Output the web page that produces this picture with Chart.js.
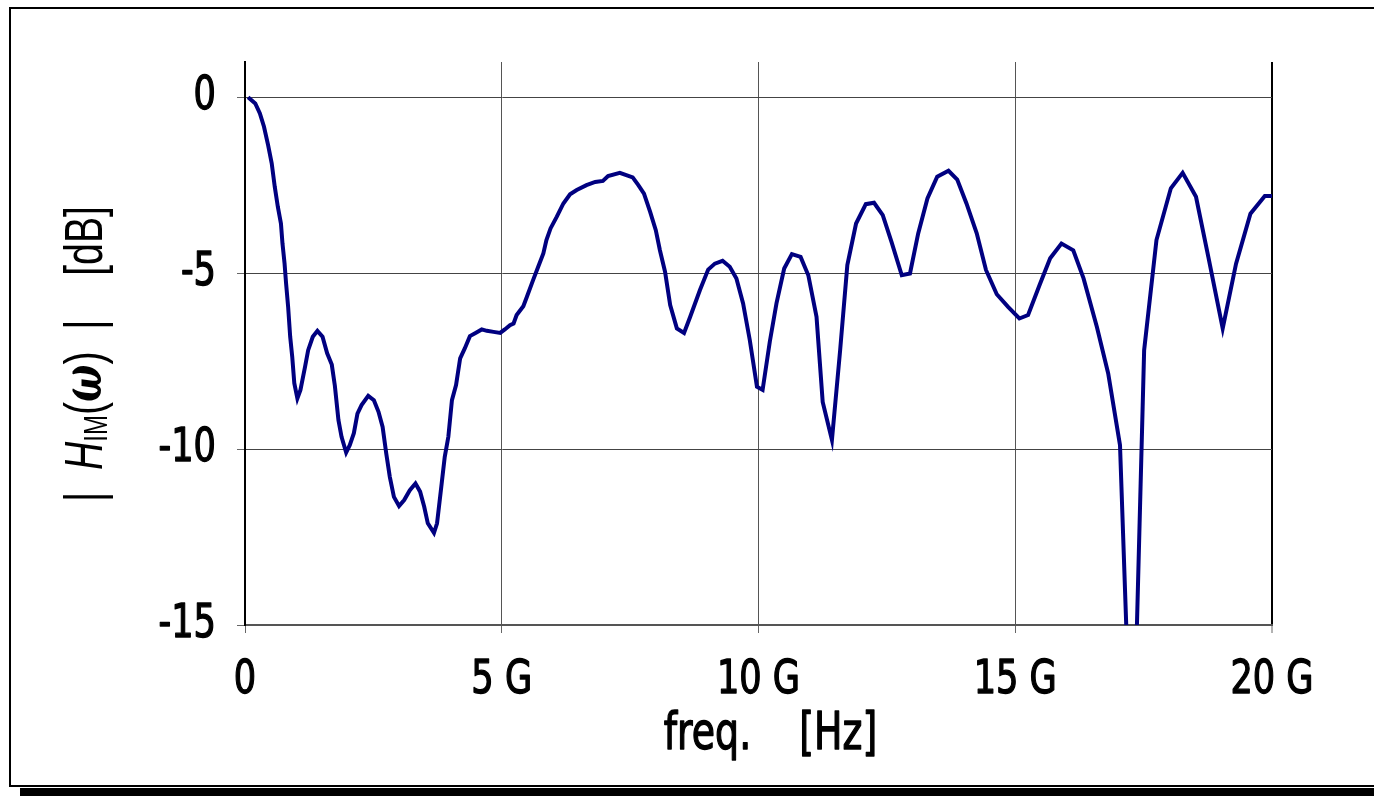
<!DOCTYPE html>
<html><head><meta charset="utf-8">
<script src="https://cdn.jsdelivr.net/npm/chart.js@4/dist/chart.umd.min.js"></script>
<style>
html,body{margin:0;padding:0;background:#fff;width:1374px;height:796px;overflow:hidden;}
#frame{position:absolute;left:9px;top:7px;width:1400px;height:776px;border:2px solid #000;}
#shadow{position:absolute;left:20px;top:788px;width:1400px;height:9px;background:#000;}
#wrap{position:absolute;left:0;top:0;width:1374px;height:796px;}
</style></head>
<body>
<div id="frame"></div><div id="shadow"></div>
<div id="wrap"><canvas id="c" width="1374" height="796"></canvas></div>
<script>
// frequency in GHz
const freqGHz = [0.06,0.2,0.29,0.37,0.45,0.52,0.58,0.64,0.70,0.73,0.77,0.80,0.84,0.88,0.92,0.96,1.02,1.08,1.17,1.23,1.32,1.41,1.51,1.60,1.69,1.75,1.82,1.88,1.97,2.04,2.12,2.19,2.27,2.40,2.51,2.60,2.68,2.75,2.82,2.90,3.00,3.10,3.21,3.32,3.41,3.49,3.56,3.68,3.74,3.83,3.89,3.96,4.03,4.11,4.19,4.28,4.38,4.49,4.61,4.71,4.84,4.97,5.06,5.16,5.23,5.29,5.42,5.49,5.61,5.71,5.81,5.87,5.95,6.07,6.20,6.33,6.46,6.65,6.82,6.97,7.07,7.30,7.55,7.66,7.77,7.89,8.00,8.08,8.18,8.28,8.41,8.55,8.67,8.86,9.02,9.15,9.30,9.44,9.57,9.70,9.83,9.97,10.08,10.22,10.35,10.50,10.65,10.82,10.97,11.13,11.25,11.43,11.59,11.73,11.90,12.09,12.25,12.42,12.59,12.79,12.95,13.11,13.29,13.48,13.70,13.87,14.05,14.25,14.43,14.64,14.86,15.08,15.25,15.47,15.68,15.90,16.13,16.33,16.59,16.81,17.04,17.28,17.51,17.75,18.03,18.26,18.52,18.76,19.04,19.30,19.58,19.86,20.0];
// magnitude in dB
const magDB = [0.0,-0.18,-0.46,-0.84,-1.36,-1.88,-2.55,-3.12,-3.59,-4.16,-4.72,-5.29,-5.96,-6.81,-7.38,-8.13,-8.56,-8.32,-7.66,-7.19,-6.81,-6.64,-6.81,-7.28,-7.6,-8.2,-9.18,-9.65,-10.1,-9.89,-9.55,-8.99,-8.75,-8.49,-8.61,-8.94,-9.37,-10.12,-10.79,-11.36,-11.62,-11.45,-11.17,-10.98,-11.21,-11.64,-12.11,-12.38,-12.11,-10.98,-10.22,-9.65,-8.61,-8.18,-7.42,-7.14,-6.79,-6.70,-6.60,-6.64,-6.67,-6.70,-6.60,-6.48,-6.43,-6.19,-5.94,-5.67,-5.20,-4.82,-4.44,-4.06,-3.73,-3.40,-3.02,-2.76,-2.64,-2.50,-2.41,-2.38,-2.24,-2.15,-2.28,-2.50,-2.74,-3.26,-3.78,-4.35,-4.96,-5.91,-6.57,-6.70,-6.24,-5.48,-4.90,-4.73,-4.65,-4.82,-5.15,-5.86,-6.90,-8.23,-8.32,-6.95,-5.86,-4.87,-4.46,-4.54,-5.06,-6.24,-8.66,-9.74,-7.19,-4.77,-3.59,-3.04,-3.0,-3.35,-4.11,-5.06,-5.01,-3.87,-2.88,-2.26,-2.09,-2.34,-3.02,-3.87,-4.91,-5.60,-5.96,-6.29,-6.19,-5.35,-4.58,-4.16,-4.35,-5.15,-6.53,-7.85,-9.89,-20.0,-7.19,-4.06,-2.59,-2.15,-2.83,-4.54,-6.57,-4.73,-3.31,-2.81,-2.81];
const xTickValues = [0,5,10,15,20];
const xTickLabels = ['0','5 G','10 G','15 G','20 G'];
const yTickValues = [0,-5,-10,-15];
const yTickLabels = ['0','-5','-10','-15'];
const xTitle = '  freq.    [Hz]';

const NARROW = '"DejaVu Sans Condensed"';

// squeeze condensed text horizontally and thicken it slightly (the reference uses a narrow, heavy face)
const squeezePlugin = {
  id: 'squeeze',
  beforeDraw(chart) {
    const ctx = chart.ctx;
    if (ctx._origFill) return;
    const orig = ctx.fillText.bind(ctx);
    const origStroke = ctx.strokeText.bind(ctx);
    ctx._origFill = orig;
    ctx.fillText = function(text, x, y, maxWidth) {
      const f = ctx.font;
      if (f.indexOf('Condensed') >= 0) {
        const sx = f.indexOf('52px') >= 0 ? 0.81 : 0.85;
        ctx.save();
        ctx.translate(x, y);
        ctx.scale(sx, 1);
        ctx.strokeStyle = ctx.fillStyle;
        ctx.lineWidth = 1.3;
        ctx.lineJoin = 'round';
        orig(text, 0, 0);
        origStroke(text, 0, 0);
        ctx.restore();
      } else {
        if (maxWidth !== undefined) orig(text, x, y, maxWidth); else orig(text, x, y);
      }
    };
  }
};

const yTitlePlugin = {
  id: 'yTitle',
  afterDraw(chart) {
    const ctx = chart.ctx;
    const sz = 54;
    const base = '"Liberation Sans", Arial, sans-serif';
    const parts = [
      {t: '|  ', f: `400 ${sz}px ${base}`, dy: 0},
      {t: 'H', f: `italic 400 ${sz}px ${base}`, dy: 0},
      {t: 'IM', f: `400 ${Math.round(sz*0.62)}px ${base}`, dy: sz*0.2},
      {t: '(', f: `400 ${sz}px ${base}`, dy: 0},
      {t: '\u03C9', f: `italic 700 ${sz}px "DejaVu Serif", serif`, dy: 0},
      {t: ')', f: `400 ${sz}px ${base}`, dy: 0},
      {t: '  |    [dB]', f: `400 ${sz}px ${base}`, dy: 0}
    ];
    let total = 0;
    parts.forEach(p => { ctx.font = p.f; p.w = ctx.measureText(p.t).width; total += p.w; });
    const target = 296;
    ctx.save();
    ctx.translate(87, 354);
    ctx.rotate(-Math.PI/2);
    ctx.scale(target/total, 1);
    ctx.fillStyle = '#000';
    ctx.textBaseline = 'middle';
    ctx.textAlign = 'left';
    let x = -total/2;
    parts.forEach(p => { ctx.font = p.f; ctx.fillText(p.t, x, p.dy); x += p.w; });
    ctx.restore();
  }
};

new Chart(document.getElementById('c'), {
  type: 'line',
  data: {
    datasets: [{
      data: freqGHz.map((f,i) => ({x: f, y: magDB[i]})),
      borderColor: '#000080',
      borderWidth: 4,
      pointRadius: 0,
      tension: 0,
      fill: false,
      clip: 0
    }]
  },
  options: {
    responsive: false,
    animation: false,
    devicePixelRatio: 1,
    layout: {padding: {left: 0, right: 102, top: 62, bottom: 0}},
    plugins: {legend: {display: false}, tooltip: {enabled: false}},
    scales: {
      x: {
        type: 'linear', min: 0, max: 20,
        afterFit: s => { s.height = 171; },
        afterBuildTicks: s => { s.ticks = xTickValues.map(v => ({value: v})); },
        ticks: {
          callback: v => xTickLabels[xTickValues.indexOf(v)],
          font: {family: NARROW, size: 46},
          color: '#000', padding: 20, maxRotation: 0, autoSkip: false
        },
        grid: {
          color: ctx => ctx.tick && ctx.tick.value === 20 ? '#000' : '#555',
          lineWidth: ctx => ctx.tick && ctx.tick.value === 20 ? 2 : 1,
          tickLength: 8, tickColor: '#666', tickWidth: 1
        },
        border: {display: true, color: '#555', width: 2},
        title: {display: true, text: xTitle, font: {family: NARROW, size: 52}, color: '#000', padding: {top: 0, bottom: 29}}
      },
      y: {
        type: 'linear', min: -15, max: 1,
        afterFit: s => { s.width = 245; },
        afterBuildTicks: s => { s.ticks = yTickValues.map(v => ({value: v})); },
        ticks: {
          callback: v => yTickLabels[yTickValues.indexOf(v)],
          font: {family: NARROW, size: 46},
          color: '#000', padding: 21
        },
        grid: {color: '#444', lineWidth: 1, tickLength: 8, tickColor: '#666'},
        border: {display: true, color: '#000', width: 2}
      }
    }
  },
  plugins: [squeezePlugin, yTitlePlugin]
});
</script>
</body></html>
